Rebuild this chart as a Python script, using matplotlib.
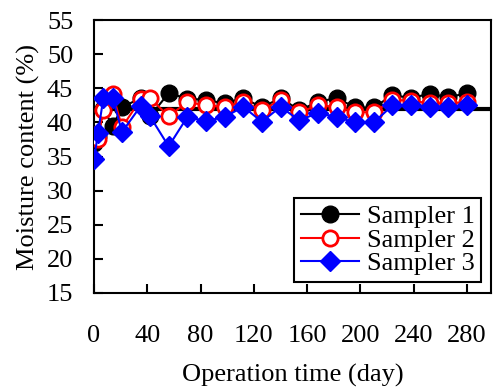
import numpy as np
import matplotlib
matplotlib.use("Agg")
import matplotlib.pyplot as plt

# Datos
days = [0, 3, 7, 14, 21, 35, 42, 56, 70, 84, 98, 112, 126, 140, 154, 168,
        182, 196, 210, 224, 238, 252, 266, 280]
sampler1 = [37.0, 38.0, 42.0, 39.5, 42.2, 43.6, 40.9, 44.3, 43.5, 43.3, 42.8, 43.6,
            42.2, 43.6, 41.8, 43.0, 43.6, 42.2, 42.2, 44.0, 43.6, 44.2, 43.7, 44.3]
sampler2 = [38.2, 37.6, 41.8, 44.2, 39.3, 43.4, 43.6, 40.9, 43.0, 42.5, 42.3, 43.0,
            41.8, 43.3, 41.5, 42.5, 42.3, 41.5, 41.5, 43.3, 43.2, 42.8, 42.8, 43.0]
sampler3 = [34.6, 38.5, 43.6, 43.6, 38.6, 42.4, 40.9, 36.5, 40.8, 40.2, 40.8, 42.3,
            40.1, 42.3, 40.3, 41.4, 40.8, 40.0, 40.0, 42.5, 42.5, 42.3, 42.3, 42.5]
mean_level = 42.0

xticks = [0, 40, 80, 120, 160, 200, 240, 280]
yticks = [15, 20, 25, 30, 35, 40, 45, 50, 55]

plt.rcParams['font.family'] = ['Liberation Serif', 'DejaVu Serif']
plt.rcParams['font.size'] = 19

fig = plt.figure(figsize=(4.95, 3.88), dpi=100)
ax = fig.add_axes([0.190, 0.245, 0.802, 0.703])

# Linea horizontal del valor medio
ax.axhline(mean_level, color='black', lw=3, zorder=1)

ax.plot(days, sampler1, color='black', lw=1.5, marker='o', ms=12,
        mfc='black', mec='black', label='Sampler 1', zorder=2)
ax.plot(days, sampler2, color='red', lw=1.5, marker='o', ms=11,
        mfc='white', mec='red', mew=2, label='Sampler 2', zorder=3)
ax.plot(days, sampler3, color='blue', lw=1.5, marker='D', ms=10,
        mfc='blue', mec='blue', label='Sampler 3', zorder=4)

ax.set_xlim(0, 298)
ax.set_ylim(15, 55)
ax.set_xticks(xticks)
ax.set_yticks(yticks)

for s in ax.spines.values():
    s.set_linewidth(1.5)

ax.tick_params(axis='x', direction='in', length=6.5, width=1.5, pad=23)
ax.tick_params(axis='y', direction='in', length=6.5, width=1.5, pad=15)

ax.set_xlabel('Operation time (day)', labelpad=12)
ax.set_ylabel('Moisture content (%)', labelpad=5)

leg = ax.legend(loc='lower right', bbox_to_anchor=(0.975, 0.04), frameon=True,
                fancybox=False, edgecolor='black', framealpha=1,
                handlelength=2.2, labelspacing=0.0, handletextpad=0.3,
                borderpad=0.25, borderaxespad=0.0)
leg.get_frame().set_linewidth(1.5)

fig.savefig('out.png', dpi=100)
